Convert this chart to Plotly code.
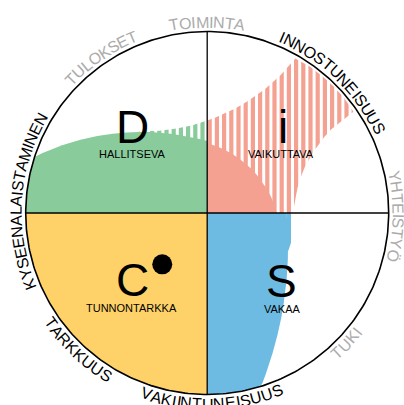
import numpy as np
import plotly.graph_objects as go

# ---------------- data ----------------
quad_letters = ["D", "i", "C", "S"]
quad_names = ["HALLITSEVA", "VAIKUTTAVA", "TUNNONTARKKA", "VAKAA"]

ring_words = ["TOIMINTA", "INNOSTUNEISUUS", "YHTEISTYÖ", "TUKI",
              "VAKIINTUNEISUUS", "TARKKUUS", "KYSEENALAISTAMINEN", "TULOKSET"]
ring_angles = [90, 46, -1, 317, 271.5, 226.7, 176, 124.3]
ring_gray = [True, False, True, True, False, False, False, True]
ring_clockwise = [True, True, True, False, False, False, True, True]

# radial outlines (angle in degrees, radius as share of the circle radius)
c_theta = [180, 185, 190, 195, 200, 205, 210, 215, 220, 225, 230, 235, 240,
           245, 250, 255, 260, 265, 270]
c_r = [1.0] * len(c_theta)

d_solid_theta = [90, 95, 100, 105, 110, 115, 120, 125, 130, 135, 140, 145,
                 150, 155, 160, 162, 166, 170, 175, 180]
d_solid_r = [0.397, 0.408, 0.421, 0.438, 0.458, 0.482, 0.510, 0.544, 0.582,
             0.628, 0.679, 0.739, 0.806, 0.882, 0.965, 1.0, 1.0, 1.0, 1.0, 1.0]

d_stripe_theta = [90, 100, 110, 120, 125, 130, 132]
d_stripe_r = [0.509, 0.490, 0.495, 0.523, 0.550, 0.587, 0.560]

i_solid_theta = [0, 7.5, 15, 22.5, 30, 37.5, 45, 52.5, 60, 67.5, 75, 82.5, 90]
i_solid_r = [0.384, 0.372, 0.362, 0.354, 0.348, 0.345, 0.344, 0.345, 0.348,
             0.354, 0.362, 0.372, 0.384]

i_stripe_theta = [0, 5, 10, 15, 20, 25, 30, 32, 33, 34, 34.7, 40, 45, 50, 55,
                  60.3, 61, 62, 65, 70, 75, 80, 85, 90]
i_stripe_r = [0.475, 0.481, 0.493, 0.514, 0.544, 0.592, 0.676, 0.731, 0.769,
              0.827, 0.980, 0.985, 0.985, 0.985, 0.985, 0.980, 0.917, 0.860,
              0.754, 0.656, 0.596, 0.556, 0.528, 0.509]

s_solid_theta = [-90, -85, -80, -75, -73, -72, -70, -65, -60, -55, -50, -40,
                 -30, -20, -10, 0]
s_solid_r = [1.0, 1.0, 1.0, 1.0, 1.0, 0.985, 0.944, 0.852, 0.775, 0.710,
             0.655, 0.571, 0.513, 0.474, 0.450, 0.438]

s_stripe_theta = [-28, -25, -20, -15, -10, -5, 0]
s_stripe_r = [0.440, 0.493, 0.490, 0.486, 0.482, 0.478, 0.475]

dot_r, dot_theta = 0.376, 228.8

# ---------------- style / geometry ----------------
W, H = 404, 405
CX, CY, RPX = 207.2, 213.0, 181.5
YELLOW, GREEN, SALMON, BLUE = "#FED268", "#89CB9B", "#F5A192", "#6DBBE2"
GRAY = "#ABABAB"
FONT = "Liberation Sans, Arial, sans-serif"
HATCH_PERIOD_PX, HATCH_GAP_PX, HATCH_PHASE_PX = 7.2, 3.0, 6.1


def xy(theta, r):
    t = np.radians(np.asarray(theta, float))
    r = np.asarray(r, float)
    return r * np.cos(t), r * np.sin(t)


def wedge(theta, r):
    x, y = xy(theta, r)
    return np.r_[0, x, 0], np.r_[0, y, 0]


fig = go.Figure()


def solid(theta, r, color):
    x, y = wedge(theta, r)
    fig.add_trace(go.Scatter(x=x, y=y, mode="lines", fill="toself",
                             fillcolor=color, line=dict(width=0, color=color),
                             hoverinfo="skip"))


# 1) full extent of the hatched areas
solid(i_stripe_theta, i_stripe_r, SALMON)
solid(d_stripe_theta, d_stripe_r, GREEN)
solid(s_stripe_theta, s_stripe_r, BLUE)

# 2) white hatch gaps (vertical), over the D, i and S quadrants
hx, hy = [], []
k = np.arange(-30, 30)
for xp in HATCH_PHASE_PX + HATCH_PERIOD_PX * k:
    xr = xp / RPX
    if abs(xr) >= 0.999:
        continue
    top = np.sqrt(1 - xr ** 2) * 0.995
    bottom = -top if xr > 0 else 0.0
    hx += [xr, xr, None]
    hy += [bottom, top, None]
fig.add_trace(go.Scatter(x=hx, y=hy, mode="lines",
                         line=dict(color="white", width=HATCH_GAP_PX),
                         hoverinfo="skip"))

# 3) solid areas
solid(c_theta, c_r, YELLOW)
solid(s_solid_theta, s_solid_r, BLUE)
solid(d_solid_theta, d_solid_r, GREEN)
solid(i_solid_theta, i_solid_r, SALMON)

# cross lines and outer circle
fig.add_trace(go.Scatter(x=[0, 0], y=[-1, 1], mode="lines",
                         line=dict(color="black", width=1.3), hoverinfo="skip"))
fig.add_trace(go.Scatter(x=[-1, 1], y=[0, 0], mode="lines",
                         line=dict(color="black", width=1.3), hoverinfo="skip"))
ct = np.linspace(0, 360, 361)
cx_, cy_ = xy(ct, np.ones_like(ct))
fig.add_trace(go.Scatter(x=cx_, y=cy_, mode="lines",
                         line=dict(color="black", width=1.6), hoverinfo="skip"))

# dot
dx, dy = xy([dot_theta], [dot_r])
fig.add_trace(go.Scatter(x=dx, y=dy, mode="markers",
                         marker=dict(color="black", size=20), hoverinfo="skip"))

ann = []


def P(px, py):
    # page pixel -> data coordinates
    return (px - CX) / RPX, (CY - py) / RPX


letter_pos = [(132.5, 127), (283, 127), (132.8, 280), (281, 280.5)]
name_pos = [(131.7, 154), (281, 154), (131, 308), (282, 308.8)]
for t, (px, py) in zip(quad_letters, letter_pos):
    x, y = P(px, py)
    ann.append(dict(x=x, y=y, text=t, showarrow=False, xanchor="center",
                    yanchor="middle", font=dict(family=FONT, size=46, color="black")))
for t, (px, py) in zip(quad_names, name_pos):
    x, y = P(px, py)
    ann.append(dict(x=x, y=y, text=t, showarrow=False, xanchor="center",
                    yanchor="middle", font=dict(family=FONT, size=11, color="black")))

# curved ring text
CW = {"A": .667, "B": .667, "C": .722, "D": .722, "E": .667, "F": .611,
      "G": .778, "H": .722, "I": .278, "J": .5, "K": .667, "L": .556,
      "M": .833, "N": .722, "O": .778, "P": .667, "R": .722, "S": .667,
      "T": .611, "U": .722, "V": .667, "Y": .667, "Ö": .778}
FS = 16
RHO = 191.0
for word, ang, gray, cw in zip(ring_words, ring_angles, ring_gray, ring_clockwise):
    widths = [CW.get(ch, .667) * FS for ch in word]
    total = sum(widths)
    s = -total / 2
    for ch, w in zip(word, widths):
        mid = s + w / 2
        s += w
        dphi = np.degrees(mid / RHO)
        if cw:
            phi = ang - dphi
            ta = 90 - phi
        else:
            phi = ang + dphi
            ta = -phi - 90
        ta = ((ta + 180) % 360) - 180
        x = RHO / RPX * np.cos(np.radians(phi))
        y = RHO / RPX * np.sin(np.radians(phi))
        ann.append(dict(x=x, y=y, text=ch, showarrow=False, textangle=ta,
                        xanchor="center", yanchor="middle",
                        font=dict(family=FONT, size=FS,
                                  color=GRAY if gray else "black")))

fig.update_layout(
    width=W, height=H, margin=dict(l=0, r=0, t=0, b=0),
    paper_bgcolor="white", plot_bgcolor="white", showlegend=False,
    hovermode=False,
    xaxis=dict(range=[-CX / RPX, (W - CX) / RPX], visible=False, fixedrange=True),
    yaxis=dict(range=[-(H - CY) / RPX, CY / RPX], visible=False, fixedrange=True),
    annotations=ann,
)

fig.write_html(
    "out.html",
    config={"displayModeBar": False, "staticPlot": True},
    post_script="document.documentElement.style.overflow='hidden';"
                "document.body.style.margin='0';"
                "document.body.style.overflow='hidden';",
)
